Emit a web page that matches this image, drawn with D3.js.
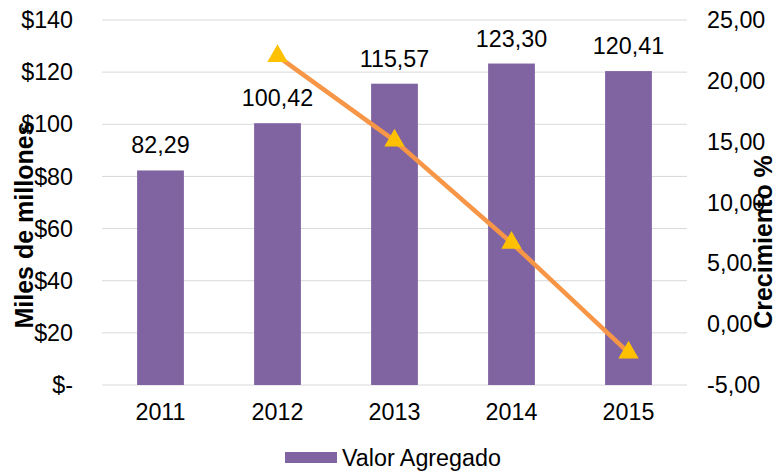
<!DOCTYPE html>
<html>
<head>
<meta charset="utf-8">
<script src="https://cdn.jsdelivr.net/npm/d3@7"></script>
<style>
  body { margin: 0; background: #fff; }
  text { font-family: Arial, "Liberation Sans", sans-serif; fill: #000; }
</style>
</head>
<body>
<svg id="chart" width="780" height="472"></svg>
<script>
const years = ['2011', '2012', '2013', '2014', '2015']
const valorAgregado = [82.29, 100.42, 115.57, 123.30, 120.41]
const crecimiento = [null, 22.03, 15.09, 6.69, -2.34]
const leftTicks = [0, 20, 40, 60, 80, 100, 120, 140]
const rightTicks = [-5, 0, 5, 10, 15, 20, 25]

const svg = d3.select('#chart')
const margin = { top: 20, left: 102, right: 93, bottom: 87 }
const width = 780 - margin.left - margin.right
const height = 472 - margin.top - margin.bottom
const FONT = '23.3px'

const fmt = v => v.toFixed(2).replace('.', ',')

const x = d3.scaleBand()
  .domain(years)
  .range([margin.left, margin.left + width])
  .paddingInner(0.6)
  .paddingOuter(0.3)

const yL = d3.scaleLinear().domain([0, 140]).range([margin.top + height, margin.top])
const yR = d3.scaleLinear().domain([-5, 25]).range([margin.top + height, margin.top])

// gridlines
svg.append('g')
  .selectAll('line')
  .data(leftTicks)
  .join('line')
  .attr('x1', margin.left)
  .attr('x2', margin.left + width)
  .attr('y1', d => yL(d))
  .attr('y2', d => yL(d))
  .attr('stroke', '#d9d9d9')
  .attr('stroke-width', 1)

// left axis labels
svg.append('g')
  .selectAll('text')
  .data(leftTicks)
  .join('text')
  .attr('x', 73)
  .attr('y', d => yL(d))
  .attr('dy', '0.35em')
  .attr('text-anchor', 'end')
  .style('font-size', FONT)
  .text(d => d === 0 ? '$-' : `$${d}`)

// right axis labels
svg.append('g')
  .selectAll('text')
  .data(rightTicks)
  .join('text')
  .attr('x', 707)
  .attr('y', d => yR(d))
  .attr('dy', '0.35em')
  .attr('text-anchor', 'start')
  .style('font-size', FONT)
  .text(d => fmt(d))

// x labels
svg.append('g')
  .selectAll('text')
  .data(years)
  .join('text')
  .attr('x', d => x(d) + x.bandwidth() / 2)
  .attr('y', margin.top + height + 27)
  .attr('dy', '0.35em')
  .attr('text-anchor', 'middle')
  .style('font-size', FONT)
  .text(d => d)

// bars
svg.append('g')
  .selectAll('rect')
  .data(valorAgregado)
  .join('rect')
  .attr('x', (d, i) => x(years[i]))
  .attr('y', d => yL(d))
  .attr('width', x.bandwidth())
  .attr('height', d => yL(0) - yL(d))
  .attr('fill', '#8064a2')

// bar labels
svg.append('g')
  .selectAll('text')
  .data(valorAgregado)
  .join('text')
  .attr('x', (d, i) => x(years[i]) + x.bandwidth() / 2)
  .attr('y', d => yL(d) - 17)
  .attr('text-anchor', 'middle')
  .style('font-size', FONT)
  .text(d => fmt(d))

// growth line
const pts = crecimiento
  .map((v, i) => ({ year: years[i], v }))
  .filter(d => d.v !== null)

svg.append('path')
  .datum(pts)
  .attr('fill', 'none')
  .attr('stroke', '#f79646')
  .attr('stroke-width', 4.5)
  .attr('stroke-linecap', 'round')
  .attr('d', d3.line()
    .x(d => x(d.year) + x.bandwidth() / 2)
    .y(d => yR(d.v)))

svg.append('g')
  .selectAll('path')
  .data(pts)
  .join('path')
  .attr('transform', d => `translate(${x(d.year) + x.bandwidth() / 2},${yR(d.v)})`)
  .attr('d', d3.symbol().type(d3.symbolTriangle).size(180))
  .attr('fill', '#ffc000')

// axis titles
svg.append('text')
  .attr('transform', 'translate(33,225) rotate(-90)')
  .attr('text-anchor', 'middle')
  .style('font-size', '25px')
  .style('font-weight', 'bold')
  .text('Miles de millones')

svg.append('text')
  .attr('transform', 'translate(772,242) rotate(-90)')
  .attr('text-anchor', 'middle')
  .style('font-size', '25px')
  .style('font-weight', 'bold')
  .text('Crecimiento %')

// legend
const legend = svg.append('g').attr('transform', 'translate(285,452)')
legend.append('rect')
  .attr('width', 52)
  .attr('height', 11)
  .attr('fill', '#8064a2')
legend.append('text')
  .attr('x', 57)
  .attr('y', 6)
  .attr('dy', '0.35em')
  .style('font-size', FONT)
  .text('Valor Agregado')
</script>
</body>
</html>
